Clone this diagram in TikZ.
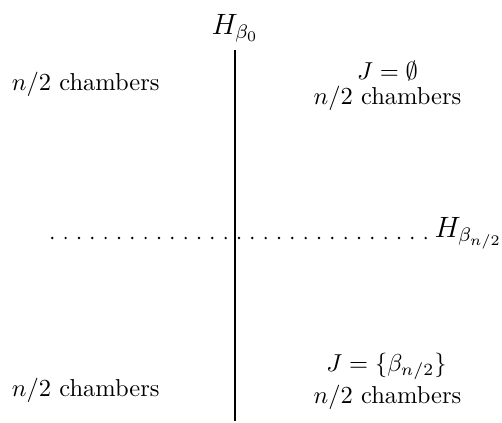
\documentclass[tikz,border=0pt]{standalone}
\usetikzlibrary{positioning}
\begin{document}
\begin{tikzpicture}[x=0.4082pt,y=-0.4082pt,
    lbl/.style={inner sep=0pt},
    hyp/.style={inner sep=0pt,font=\large},
    wall/.style={line width=0.8pt},
    dotwall/.style={line width=1.1pt,line cap=round,dash pattern=on 0pt off 5.443pt}]
    \useasboundingbox (0,0) rectangle (502,422);
    % hyperplane labels
    \node[hyp,anchor=base] (h0) at (235,34) {$H_{\beta_0}$};
    \node[hyp,anchor=base west] (hn) at (434,237) {$H_{\beta_{n/2}}$};
    % chambers
    \node[lbl,anchor=base west] (tl) at (11.5,90.5) {$n/2$ chambers};
    \node[lbl,anchor=base west] (bl) at (11.5,396) {$n/2$ chambers};
    \node[lbl,anchor=base] (jt) at (387.5,79.5) {$J=\emptyset$};
    \node[lbl,anchor=base] (tr) at (387.5,104.5) {$n/2$ chambers};
    \node[lbl,anchor=base] (jb) at (386.5,371) {$J=\{\beta_{n/2}\}$};
    \node[lbl,anchor=base] (br) at (387.5,403) {$n/2$ chambers};
    % walls
    \coordinate (vt) at (235,50);
    \coordinate (vb) at (235,421);
    \coordinate (dl) at (52.3,238);
    \coordinate (dr) at (426,238);
    \draw[wall] (vt)--(vb);
    \draw[dotwall] (dl)--(dr);
\end{tikzpicture}
\end{document}
